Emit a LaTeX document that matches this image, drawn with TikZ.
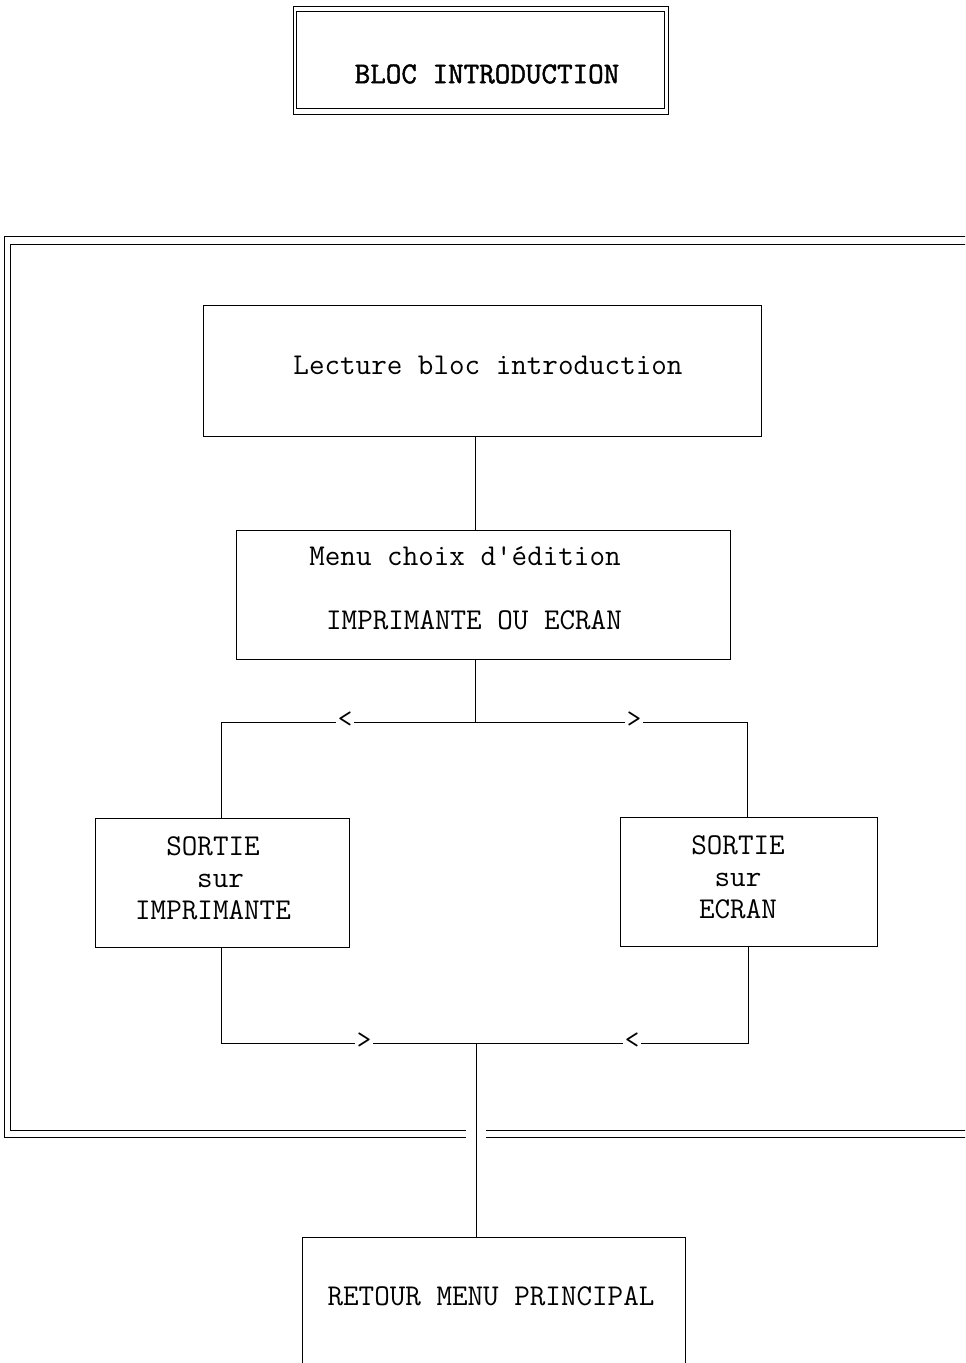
\documentclass[tikz,border=0pt]{standalone}
\usepackage{fontspec}
\newfontfamily\mono{Latin Modern Mono}
\newfontfamily\titlefont[FakeBold=1.5]{Latin Modern Mono}
\begin{document}
\begin{tikzpicture}[x=0.02cm,y=-0.02cm,
  ln/.style={line width=0.55pt,black},
  box/.style={draw,line width=0.55pt,rectangle,inner sep=0pt},
  txt/.style={font=\mono\fontsize{17.2}{18.1}\selectfont,align=center,inner sep=0pt},
  chev/.style={font=\mono\fontsize{16}{16}\selectfont,fill=white,inner sep=1pt}]
\clip (0,0) rectangle (965,1363);
\fill[white] (0,0) rectangle (965,1363);
% title box
\node[box,minimum width=7.52cm,minimum height=2.16cm] (title) at (481,60) {};
\draw[ln] ([shift={(4,6)}]title.north west) rectangle ([shift={(-5,-6)}]title.south east);
\node[txt,font=\titlefont\fontsize{17.2}{18}\selectfont] (titletxt) at (487,74) {BLOC INTRODUCTION};
% big frame
\draw[ln] (975,236) -- (4,236) -- (4,1137) -- (466,1137);
\draw[ln] (486,1137) -- (975,1137);
\draw[ln] (975,244) -- (10,244) -- (10,1130) -- (466,1130);
\draw[ln] (486,1130) -- (975,1130);
% boxes
\node[box,minimum width=11.18cm,minimum height=2.62cm] (lecture) at (482.5,370.5) {};
\node[txt] (lecturetxt) at (488,365) {Lecture bloc introduction};
\node[box,minimum width=9.9cm,minimum height=2.58cm] (menu) at (483.5,594.5) {};
\node[txt] (menutxt1) at (465,556) {Menu choix d'édition};
\node[txt] (menutxt2) at (474,620) {IMPRIMANTE OU ECRAN};
\node[box,minimum width=5.1cm,minimum height=2.58cm] (left) at (222.5,882.5) {};
\node[txt] (lefttxt) at (213,878) {SORTIE\\\hspace*{0.5em}sur\\IMPRIMANTE};
\node[box,minimum width=5.14cm,minimum height=2.58cm] (right) at (748.5,881.5) {};
\node[txt] (righttxt) at (738,877) {SORTIE\\sur\\ECRAN};
\node[box,minimum width=7.68cm,minimum height=3.4cm] (retour) at (494,1322) {};
\node[txt] (retourtxt) at (491,1296) {RETOUR MENU PRINCIPAL};
% junctions
\coordinate (j1) at (475,722);
\coordinate (jl) at (221,722);
\coordinate (jr) at (747,722);
\coordinate (j2) at (476,1043);
\coordinate (kl) at (221,1043);
\coordinate (kr) at (748,1043);
% connectors
\draw[ln] (lecture.south -| j1) -- (menu.north -| j1);
\draw[ln] (menu.south -| j1) -- (j1);
\draw[ln] (jl) -- (jr);
\draw[ln] (jl) -- (left.north -| jl);
\draw[ln] (jr) -- (right.north -| jr);
\draw[ln] (left.south -| kl) -- (kl) -- (kr) -- (right.south -| kr);
\draw[ln] (j2) -- (retour.north -| j2);
% chevrons
\node[chev] (c1) at (345,720) {<};
\node[chev] (c2) at (634,720) {>};
\node[chev] (c3) at (364,1041) {>};
\node[chev] (c4) at (632,1041) {<};
\end{tikzpicture}
\end{document}
